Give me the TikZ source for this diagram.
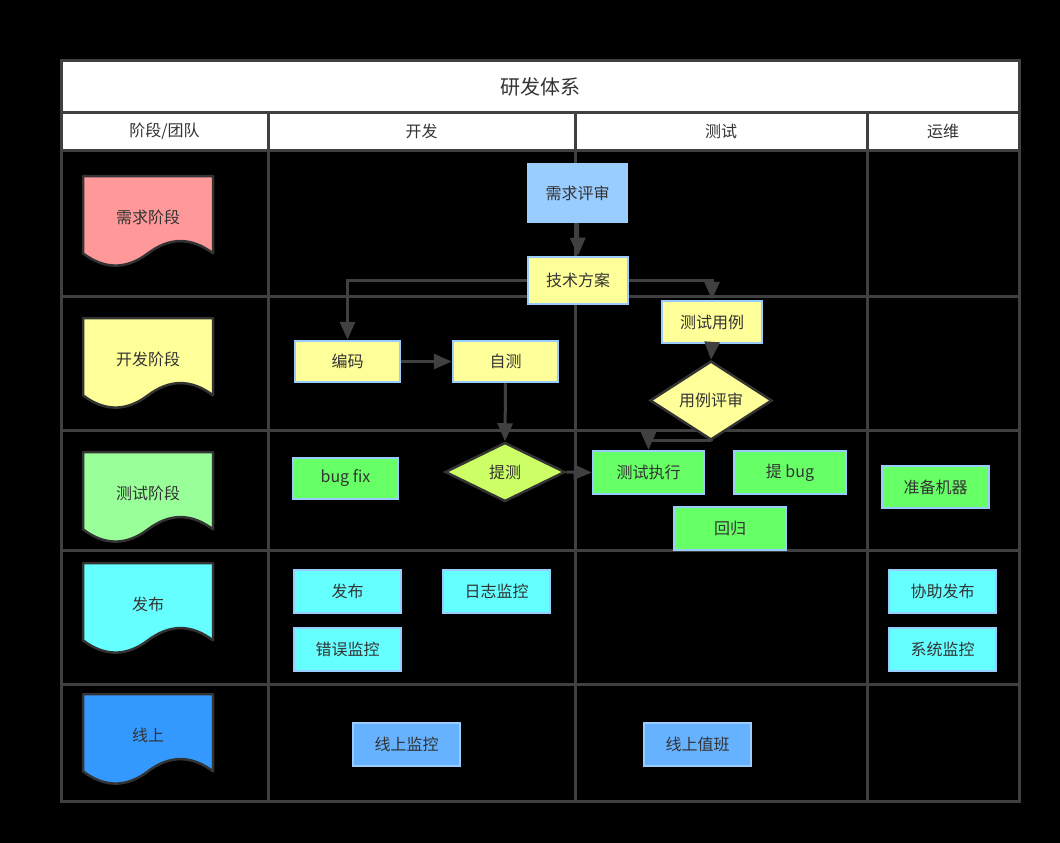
\documentclass[tikz,border=0pt]{standalone}
\usepackage{fontspec}
\setmainfont{Noto Sans CJK SC}
\usetikzlibrary{shapes.geometric,arrows.meta}
\definecolor{gridc}{HTML}{404040}
\definecolor{txt}{HTML}{333333}
\definecolor{bord}{HTML}{99CCFF}
\definecolor{pinkf}{HTML}{FF9999}
\definecolor{yelf}{HTML}{FFFF99}
\definecolor{grnf}{HTML}{99FF99}
\definecolor{cyanf}{HTML}{66FFFF}
\definecolor{bluef}{HTML}{3399FF}
\definecolor{boxgreen}{HTML}{66FF66}
\definecolor{boxblue}{HTML}{66B2FF}
\definecolor{reqblue}{HTML}{99CCFF}
\definecolor{limef}{HTML}{CCFF66}
\newcommand\docshape[4]{%
  \begin{scope}[shift={(83,#2)}]
    \draw[docline, fill=#3] (0,0) -- (130,0) -- (130,77.35)
      .. controls (108.3,61.0) and (86.7,61.0) .. (65,77.35)
      .. controls (43.3,93.7) and (21.7,93.7) .. (0,77.35) -- cycle;
    \node[lbl] (#1) at (65,41) {#4};
  \end{scope}}
\begin{document}
\begin{tikzpicture}[x=1pt,y=-1pt,
  gridline/.style={draw=gridc, line width=3pt},
  docline/.style={draw=txt, line width=2.5pt, line join=round},
  lbl/.style={text=txt, font=\fontsize{16}{19}\selectfont, inner sep=0pt},
  box/.style={rectangle, draw=bord, line width=2.5pt, text=txt,
    font=\fontsize{16}{19}\selectfont, inner sep=0pt},
  dia/.style={diamond, draw=txt, line width=2.5pt, text=txt,
    font=\fontsize{16}{19}\selectfont, inner sep=0pt},
  arr/.style={draw=gridc, line width=3pt, -{Triangle[length=18pt,width=15pt]}},
  hdr/.style={text=txt, font=\fontsize{16}{19}\selectfont, inner sep=0pt}]
\fill[black] (0,0) rectangle (1060,843);
\useasboundingbox (0,0) rectangle (1060,843);
% header area
\fill[white] (61,61) rectangle (1019,150);
\node[hdr, font=\fontsize{20}{24}\selectfont] (title) at (540,87) {研发体系};
\node[hdr] (h1) at (164.5,131) {阶段/团队};
\node[hdr] (h2) at (421.5,131) {开发};
\node[hdr] (h3) at (721,131) {测试};
\node[hdr] (h4) at (943,131) {运维};
% grid
\draw[gridline] (61,112) -- (1019,112);
\draw[gridline] (61,150) -- (1019,150);
\foreach \yy in {296,430,550,684} \draw[gridline] (61,\yy) -- (1019,\yy);
\foreach \xx in {268,575,867} \draw[gridline] (\xx,112) -- (\xx,801);
\draw[gridline] (61,61) rectangle (1019,801);
% stage documents
\docshape{s1}{176}{pinkf}{需求阶段}
\docshape{s2}{318}{yelf}{开发阶段}
\docshape{s3}{452}{grnf}{测试阶段}
\docshape{s4}{563}{cyanf}{发布}
\docshape{s5}{694}{bluef}{线上}
% boxes
\node[box, fill=reqblue, minimum width=99pt, minimum height=58pt] (xqps) at (577.5,193) {需求评审};
\node[box, fill=yelf, minimum width=100pt, minimum height=47pt] (jsfa) at (578,280.5) {技术方案};
\node[box, fill=yelf, minimum width=105pt, minimum height=41pt] (bianma) at (347.5,361.5) {编码};
\node[box, fill=yelf, minimum width=105pt, minimum height=41pt] (zice) at (505.5,361.5) {自测};
\node[dia, fill=limef, minimum width=120pt, minimum height=59pt] (tice) at (505,472) {提测};
\node[box, fill=boxgreen, minimum width=105pt, minimum height=41pt] (bugfix) at (345.5,478.5) {bug fix};
\node[box, fill=yelf, minimum width=100pt, minimum height=42pt] (csyl) at (712,322) {测试用例};
\node[dia, fill=yelf, minimum width=122pt, minimum height=55pt] (ylps) at (711,400.5) {用例评审};
\node[box, fill=boxgreen, minimum width=111pt, minimum height=43pt] (cszx) at (648.5,472.5) {测试执行};
\node[box, fill=boxgreen, minimum width=112pt, minimum height=43pt] (tibug) at (790,472.5) {提 bug};
\node[box, fill=boxgreen, minimum width=112pt, minimum height=43pt] (huigui) at (730,528.5) {回归};
\node[box, fill=boxgreen, minimum width=107pt, minimum height=42pt] (zbjq) at (935.5,487) {准备机器};
\node[box, fill=cyanf, minimum width=107pt, minimum height=43pt] (fabu) at (347.5,591.5) {发布};
\node[box, fill=cyanf, minimum width=107pt, minimum height=43pt] (rzjk) at (496.5,591.5) {日志监控};
\node[box, fill=cyanf, minimum width=107pt, minimum height=43pt] (cwjk) at (347.5,649.5) {错误监控};
\node[box, fill=cyanf, minimum width=107pt, minimum height=43pt] (xzfb) at (942.5,591.5) {协助发布};
\node[box, fill=cyanf, minimum width=107pt, minimum height=43pt] (xtjk) at (942.5,649.5) {系统监控};
\node[box, fill=boxblue, minimum width=107pt, minimum height=43pt] (xsjk) at (406.5,744.5) {线上监控};
\node[box, fill=boxblue, minimum width=107pt, minimum height=43pt] (xszb) at (697.5,744.5) {线上值班};
% connectors
\coordinate (bend) at (680,440);
\draw[arr] (xqps.south) -- (jsfa.north);
\draw[arr] (jsfa.west) -| (bianma.north);
\draw[arr] (jsfa.east) -| (csyl.north);
\draw[arr] (bianma.east) -- (zice.west);
\draw[arr] (zice.south) -- (tice.north);
\draw[arr] (tice.east) -- (cszx.west);
\draw[arr] (csyl.south) -- (ylps.north);
\draw[arr] (ylps.south) |- (bend) -| (cszx.north);
\end{tikzpicture}
\end{document}
